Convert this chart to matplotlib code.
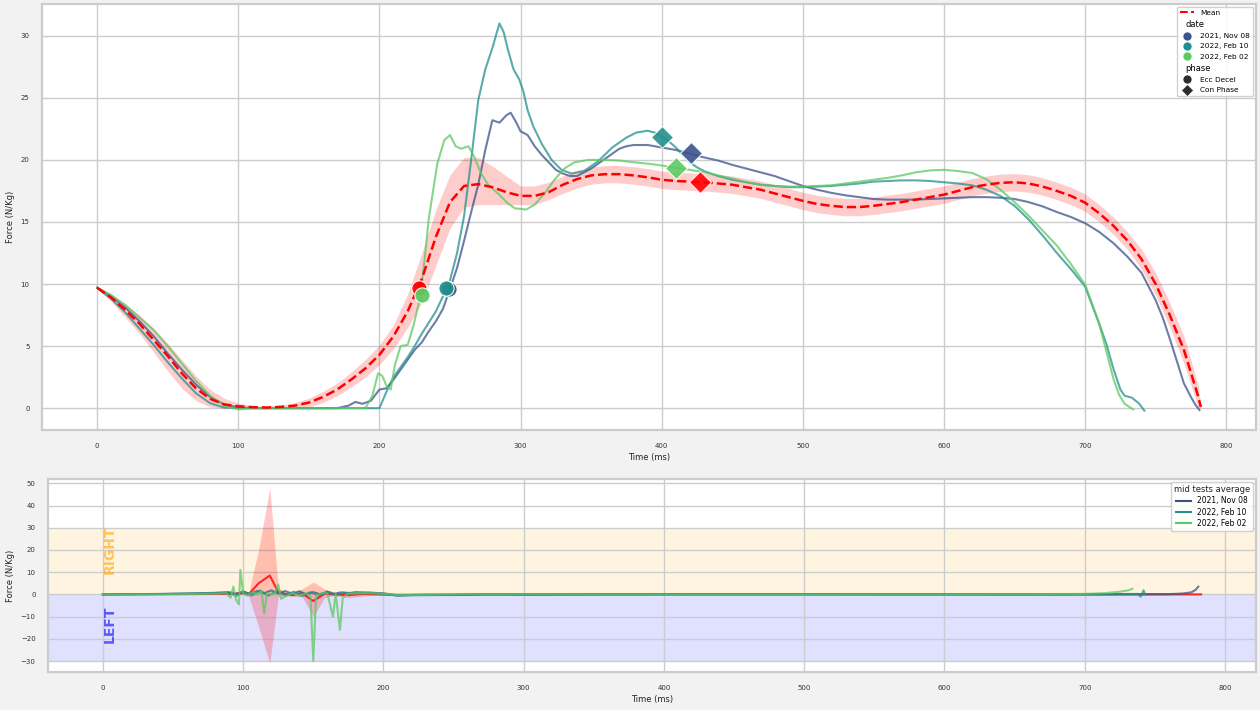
import matplotlib
matplotlib.use("Agg")
import matplotlib.pyplot as plt
from matplotlib.lines import Line2D
from matplotlib.offsetbox import VPacker


DATES = ["2021, Nov 08", "2022, Feb 10", "2022, Feb 02"]
DATE_COLORS = ["#3b528b", "#21918c", "#5ec962"]
MEAN_COLOR = "red"

# ---- top panel: force curves (N/Kg) ----
NOV08_T = [0, 10, 20, 30, 40, 50, 60, 70, 80, 90,
           100, 110, 170, 178, 183, 188, 194, 200, 205, 210,
           215, 220, 225, 230, 235, 240, 245, 250, 255, 260,
           265, 270, 275, 280, 285, 290, 293, 297, 300, 305,
           310, 315, 320, 325, 330, 335, 340, 345, 350, 355,
           360, 365, 370, 375, 380, 390, 400, 410, 420, 430,
           440, 450, 460, 470, 480, 490, 500, 510, 520, 530,
           540, 550, 560, 570, 580, 590, 600, 610, 620, 630,
           640, 650, 660, 670, 680, 690, 700, 710, 720, 730,
           740, 745, 750, 755, 760, 765, 770, 775, 778, 781]
NOV08_F = [9.7, 9.0, 8.1, 7.0, 5.8, 4.4, 3.1, 1.9, 0.9, 0.3,
           0.05, 0.0, 0.0, 0.2, 0.5, 0.35, 0.6, 1.5, 1.6, 2.3,
           3.1, 3.9, 4.7, 5.3, 6.2, 7.0, 8.0, 9.6, 11.3, 13.5,
           15.8, 18.0, 20.8, 23.2, 23.0, 23.6, 23.8, 23.0, 22.3, 22.0,
           21.1, 20.4, 19.8, 19.2, 18.9, 18.7, 18.7, 19.0, 19.3, 19.7,
           20.1, 20.5, 20.9, 21.1, 21.2, 21.2, 21.0, 20.8, 20.5, 20.2,
           19.95, 19.6, 19.3, 19.0, 18.7, 18.3, 17.9, 17.6, 17.35, 17.15,
           17.0, 16.85, 16.8, 16.8, 16.8, 16.85, 16.9, 16.95, 17.0, 17.0,
           16.95, 16.85, 16.6, 16.25, 15.8, 15.4, 14.9, 14.2, 13.3, 12.2,
           10.9, 9.8, 8.7, 7.3, 5.6, 3.8, 2.0, 0.9, 0.3, -0.15]

FEB10_T = [0, 10, 20, 30, 40, 50, 60, 70, 80, 90,
           100, 200, 203, 206, 210, 215, 220, 225, 230, 235,
           240, 245, 250, 255, 260, 265, 270, 275, 280, 285,
           288, 291, 295, 299, 302, 305, 309, 315, 322, 329,
           336, 345, 355, 365, 375, 382, 390, 395, 400, 405,
           410, 415, 420, 425, 430, 440, 450, 460, 470, 480,
           490, 500, 510, 520, 530, 540, 550, 560, 570, 580,
           590, 600, 610, 620, 630, 640, 650, 660, 670, 680,
           690, 700, 705, 710, 715, 720, 725, 728, 733, 738,
           742]
FEB10_F = [9.7, 8.8, 7.7, 6.4, 5.1, 3.7, 2.4, 1.2, 0.4, 0.05,
           0.0, 0.0, 0.8, 1.6, 2.5, 3.3, 4.1, 5.0, 6.0, 6.9,
           7.8, 9.0, 10.3, 12.5, 15.5, 20.0, 24.8, 27.3, 29.0, 31.0,
           30.3, 28.9, 27.3, 26.5, 25.5, 24.0, 22.7, 21.3, 20.0, 19.2,
           18.9, 19.1, 19.9, 21.0, 21.8, 22.2, 22.35, 22.2, 21.9, 21.5,
           21.0, 20.4, 19.8, 19.4, 19.1, 18.7, 18.4, 18.2, 18.0, 17.9,
           17.8, 17.8, 17.85, 17.9, 18.0, 18.1, 18.25, 18.3, 18.35, 18.35,
           18.3, 18.2, 18.1, 17.95, 17.6, 17.1, 16.3, 15.2, 13.9, 12.5,
           11.2, 9.8, 8.3, 6.8, 5.2, 3.2, 1.5, 1.0, 0.85, 0.4,
           -0.2]

FEB02_T = [0, 10, 20, 30, 40, 50, 60, 70, 80, 90,
           100, 110, 190, 195, 199, 202, 205, 208, 211, 215,
           220, 224, 229, 232, 235, 238, 241, 246, 250, 254,
           258, 263, 267, 272, 277, 284, 291, 296, 304, 310,
           317, 324, 331, 338, 348, 360, 370, 381, 390, 400,
           410, 420, 430, 440, 450, 460, 470, 480, 490, 500,
           510, 520, 530, 540, 550, 560, 570, 580, 590, 600,
           610, 620, 630, 640, 650, 660, 670, 680, 690, 700,
           705, 710, 715, 720, 724, 728, 734]
FEB02_F = [9.7, 9.1, 8.3, 7.3, 6.3, 5.0, 3.6, 2.2, 1.0, 0.2,
           -0.1, 0.0, 0.0, 1.0, 2.8, 2.6, 1.8, 1.5, 3.5, 5.0,
           5.1, 6.6, 9.0, 12.0, 15.3, 17.5, 19.7, 21.6, 22.0, 21.1,
           20.9, 21.1, 20.3, 18.9, 18.0, 17.3, 16.5, 16.1, 16.0, 16.4,
           17.3, 18.4, 19.3, 19.8, 20.0, 20.0, 19.95, 19.8, 19.7, 19.55,
           19.35, 19.2, 19.0, 18.75, 18.5, 18.2, 18.0, 17.9, 17.85, 17.85,
           17.9, 17.95, 18.1, 18.25, 18.4, 18.55, 18.75, 19.0, 19.15, 19.2,
           19.1, 18.95, 18.45, 17.6, 16.6, 15.5, 14.3, 13.1, 11.6, 9.95,
           8.4, 6.8, 4.6, 2.4, 1.1, 0.35, -0.1]

MEAN_T = [0, 10, 20, 30, 40, 50, 60, 70, 80, 90,
          100, 110, 120, 130, 140, 150, 160, 170, 180, 190,
          200, 210, 220, 230, 240, 250, 260, 270, 280, 290,
          300, 310, 320, 330, 340, 350, 360, 370, 380, 390,
          400, 410, 420, 430, 440, 450, 460, 470, 480, 490,
          500, 510, 520, 530, 540, 550, 560, 570, 580, 590,
          600, 610, 620, 630, 640, 650, 660, 670, 680, 690,
          700, 710, 720, 730, 740, 750, 760, 770, 780, 782]
MEAN_F = [9.7, 8.9, 7.9, 6.8, 5.5, 4.2, 2.8, 1.6, 0.75, 0.3,
          0.15, 0.08, 0.05, 0.1, 0.2, 0.45, 0.9, 1.5, 2.3, 3.2,
          4.3, 5.8, 7.8, 10.4, 13.8, 16.6, 17.9, 18.05, 17.8, 17.4,
          17.1, 17.1, 17.4, 18.0, 18.45, 18.75, 18.85, 18.85, 18.75, 18.6,
          18.4, 18.3, 18.25, 18.2, 18.1, 18.0, 17.8, 17.6, 17.3, 17.0,
          16.7, 16.45, 16.3, 16.2, 16.2, 16.3, 16.45, 16.6, 16.8, 17.0,
          17.2, 17.5, 17.8, 18.0, 18.15, 18.2, 18.1, 17.85, 17.5, 17.1,
          16.55, 15.7, 14.7, 13.5, 12.0, 10.0, 7.5, 4.7, 1.0, 0.1]
MEAN_LO = [9.6, 8.6, 7.3, 6.0, 4.5, 3.0, 1.6, 0.6, 0.1, 0.0,
           0.0, 0.0, 0.0, 0.0, 0.0, 0.1, 0.45, 1.0, 1.7, 2.5,
           3.5, 4.8, 6.5, 8.5, 11.5, 14.5, 16.2, 16.4, 16.4, 16.4,
           16.4, 16.4, 16.8, 17.3, 17.75, 18.05, 18.15, 18.15, 18.05, 17.9,
           17.7, 17.6, 17.55, 17.5, 17.4, 17.3, 17.1, 16.9, 16.6, 16.3,
           16.0, 15.75, 15.6, 15.5, 15.5, 15.6, 15.75, 15.9, 16.1, 16.3,
           16.5, 16.8, 17.1, 17.3, 17.45, 17.5, 17.4, 17.15, 16.8, 16.4,
           15.85, 15.0, 14.0, 12.8, 11.2, 9.1, 6.5, 3.6, 0.1, 0.0]
MEAN_HI = [9.8, 9.2, 8.4, 7.5, 6.4, 5.2, 3.9, 2.6, 1.5, 0.8,
           0.4, 0.2, 0.15, 0.25, 0.45, 0.8, 1.35, 2.0, 2.9, 3.9,
           5.1, 6.7, 9.2, 12.5, 16.0, 18.8, 20.2, 20.2, 19.5, 18.7,
           17.9, 17.9, 18.2, 18.7, 19.15, 19.45, 19.55, 19.55, 19.45, 19.3,
           19.1, 19.0, 18.95, 18.9, 18.8, 18.7, 18.5, 18.3, 18.0, 17.7,
           17.4, 17.15, 17.0, 16.9, 16.9, 17.0, 17.15, 17.3, 17.5, 17.7,
           17.9, 18.2, 18.5, 18.7, 18.85, 18.9, 18.8, 18.55, 18.2, 17.8,
           17.25, 16.4, 15.4, 14.2, 12.8, 10.9, 8.5, 5.8, 1.9, 0.2]

# phase markers, order: mean, Nov 08, Feb 10, Feb 02
ECC_T = [228, 249, 247, 230]
ECC_F = [9.7, 9.6, 9.65, 9.1]
CON_T = [427, 421, 400, 410]
CON_F = [18.2, 20.55, 21.85, 19.35]

# ---- bottom panel: right - left asymmetry ----
DIFF_NOV08_T = [0, 20, 40, 60, 80, 90, 95, 100, 105, 110,
                115, 120, 125, 130, 135, 140, 145, 150, 155, 160,
                165, 170, 175, 180, 190, 200, 210, 220, 230, 250,
                275, 300, 350, 400, 500, 600, 700, 760, 770, 776,
                779, 781]
DIFF_NOV08_F = [0.0, 0.1, 0.2, 0.4, 0.7, 0.9, 0.3, 1.2, 0.2, 1.5,
                0.5, 1.8, 0.4, 1.5, 0.2, 1.4, 0.1, 1.0, 0.0, 1.2,
                0.3, 0.9, 0.5, 1.0, 0.8, 0.5, -0.5, -0.3, -0.2, -0.3,
                0.1, -0.2, 0.0, 0.1, 0.1, 0.0, 0.0, 0.1, 0.4, 0.9,
                2.0, 3.5]
DIFF_FEB10_T = [0, 40, 80, 90, 95, 100, 106, 112, 118, 124,
                130, 136, 142, 148, 154, 160, 166, 172, 180, 190,
                200, 210, 220, 240, 270, 300, 400, 500, 600, 700,
                738, 740, 742, 743]
DIFF_FEB10_F = [0.0, 0.15, 0.6, 1.0, -0.8, 1.5, -0.5, 1.8, -0.6, 1.6,
                -0.4, 1.2, -0.8, 1.0, -0.5, 1.2, -0.3, 0.8, 0.5, 0.7,
                0.2, -0.6, -0.4, -0.3, 0.1, -0.1, 0.0, 0.05, 0.0, 0.1,
                0.2, -1.0, 1.8, 0.0]
DIFF_FEB02_T = [0, 40, 80, 88, 91, 93, 95, 97, 98, 100,
                103, 107, 110, 113, 115, 117, 122, 125, 127, 130,
                135, 140, 145, 148, 150, 152, 156, 160, 164, 166,
                169, 171, 175, 180, 190, 200, 210, 230, 260, 300,
                400, 500, 600, 700, 715, 725, 731, 734]
DIFF_FEB02_F = [0.0, 0.0, 0.3, 0.5, -1.5, 3.5, -2.5, -4.5, 11.0, 0.5,
                -0.5, 1.0, 0.0, 1.5, -8.5, 0.5, 0.0, 4.5, -2.0, -1.0,
                0.5, -0.5, 0.5, -1.0, -30.0, -0.5, 0.5, 0.5, -10.0, 0.3,
                -16.0, -1.5, 0.3, 0.5, 0.5, 0.3, -0.3, -0.2, 0.1, 0.0,
                0.0, 0.0, 0.0, 0.2, 0.6, 1.2, 1.8, 2.5]
DIFF_MEAN_T = [0, 90, 100, 104, 111, 119, 125, 130, 135, 142,
               150, 158, 165, 175, 185, 195, 210, 300, 500, 783]
DIFF_MEAN_F = [0.0, 0.2, 0.5, 0.0, 5.0, 8.5, 1.0, 0.2, -0.3, 0.5,
               -3.0, 0.3, 0.0, -0.3, 0.2, 0.0, -0.2, 0.0, 0.0, 0.0]
DIFF_LO = [0.0, 0.0, 0.0, -1.0, -14.5, -31.0, -1.0, -0.5, -1.0, -1.0,
           -10.0, -1.5, -0.5, -1.5, -0.8, -0.3, -0.5, -0.1, -0.1, -0.1]
DIFF_HI = [0.0, 0.4, 0.9, 1.0, 20.0, 48.0, 3.0, 1.0, 0.5, 2.5,
           5.5, 2.5, 0.5, 0.8, 1.0, 0.3, 0.1, 0.1, 0.1, 0.1]

GRID_COLOR = "#cccccc"
TEXT_COLOR = "#333333"


def style_axes(ax):
    ax.set_facecolor("white")
    ax.grid(True, color=GRID_COLOR, linewidth=1.0)
    for spine in ax.spines.values():
        spine.set_color(GRID_COLOR)
        spine.set_linewidth(1.6)
    ax.tick_params(length=0, pad=9, labelsize=5.0, labelcolor=TEXT_COLOR)
    ax.set_xticks([0, 100, 200, 300, 400, 500, 600, 700, 800])
    ax.set_xlabel("Time (ms)", fontsize=6, color="#222222", labelpad=3)
    ax.set_ylabel("Force (N/Kg)", fontsize=6, color="#222222", labelpad=4)


def adjust_subtitles(legend, subtitles, size):
    # same trick seaborn uses: drop the handle box for the subtitle rows
    for hpack in legend.findobj(VPacker)[0].get_children():
        draw_area, text_area = hpack.get_children()
        if text_area.get_text() in subtitles:
            draw_area.set_width(0)
            for text in text_area.get_children():
                text.set_fontsize(size)


def plot_force_panel(ax):
    curves = [(NOV08_T, NOV08_F), (FEB10_T, FEB10_F), (FEB02_T, FEB02_F)]
    for (t, f), color in zip(curves, DATE_COLORS):
        ax.plot(t, f, color=color, linewidth=1.5, alpha=0.75, zorder=3)

    ax.fill_between(MEAN_T, MEAN_LO, MEAN_HI, color=MEAN_COLOR, alpha=0.2,
                    linewidth=0, zorder=2)
    ax.plot(MEAN_T, MEAN_F, color=MEAN_COLOR, linestyle="--", linewidth=1.8, zorder=4)

    marker_colors = [MEAN_COLOR] + DATE_COLORS
    for i, color in enumerate(marker_colors):
        ax.scatter(ECC_T[i], ECC_F[i], s=120, marker="o", color=color,
                   edgecolor="white", linewidth=0.8, alpha=0.95, zorder=5)
        ax.scatter(CON_T[i], CON_F[i], s=125, marker="D", color=color,
                   edgecolor="white", linewidth=0.8, alpha=0.9, zorder=5)

    ax.set_yticks([0, 5, 10, 15, 20, 25, 30])

    handles = [Line2D([], [], color=MEAN_COLOR, linestyle="--", linewidth=1.5),
               Line2D([], [], visible=False)]
    labels = ["Mean", "date"]
    for date, color in zip(DATES, DATE_COLORS):
        handles.append(Line2D([], [], linestyle="", marker="o", markersize=6.5,
                              color=color, markeredgecolor="white", markeredgewidth=0.5))
        labels.append(date)
    handles.append(Line2D([], [], visible=False))
    labels.append("phase")
    handles.append(Line2D([], [], linestyle="", marker="o", markersize=6.5,
                          color="#2d2d2d", markeredgecolor="white", markeredgewidth=0.5))
    labels.append("Ecc Decel")
    handles.append(Line2D([], [], linestyle="", marker="D", markersize=6,
                          color="#2d2d2d", markeredgecolor="white", markeredgewidth=0.5))
    labels.append("Con Phase")
    legend = ax.legend(handles, labels, loc="upper right", fontsize=5.3,
                       frameon=True, fancybox=True, framealpha=0.9,
                       edgecolor=GRID_COLOR, labelspacing=0.55,
                       handlelength=2.0, borderaxespad=0.4)
    adjust_subtitles(legend, ("date", "phase"), 6)


def plot_asymmetry_panel(ax):
    ax.axhspan(0, 30, color="orange", alpha=0.12, linewidth=0, zorder=0.5)
    ax.axhspan(-30, 0, color="blue", alpha=0.12, linewidth=0, zorder=0.5)
    ax.text(0, 9, "RIGHT", rotation=90, ha="left", va="bottom", fontsize=10,
            fontweight="bold", color="orange", alpha=0.6)
    ax.text(0, -5, "LEFT", rotation=90, ha="left", va="top", fontsize=10,
            fontweight="bold", color="blue", alpha=0.6)

    ax.fill_between(DIFF_MEAN_T, DIFF_LO, DIFF_HI, color=MEAN_COLOR, alpha=0.22,
                    linewidth=0, zorder=2)
    ax.plot(DIFF_MEAN_T, DIFF_MEAN_F, color=MEAN_COLOR, linewidth=1.5, alpha=0.8, zorder=3)

    curves = [(DIFF_NOV08_T, DIFF_NOV08_F), (DIFF_FEB10_T, DIFF_FEB10_F),
              (DIFF_FEB02_T, DIFF_FEB02_F)]
    for (t, f), color in zip(curves, DATE_COLORS):
        ax.plot(t, f, color=color, linewidth=1.5, alpha=0.75, zorder=4)

    ax.set_yticks([-30, -20, -10, 0, 10, 20, 30, 40, 50])
    handles = [Line2D([], [], color=color, linewidth=1.5) for color in DATE_COLORS]
    legend = ax.legend(handles, DATES, loc="upper right", title="mid tests average",
                       fontsize=5.5, title_fontsize=6, frameon=True, framealpha=0.9,
                       edgecolor=GRID_COLOR, labelspacing=0.3, borderaxespad=0.4)
    legend.get_title().set_color("#222222")


def main():
    fig = plt.figure(figsize=(12.6, 7.1), dpi=100, facecolor="#f2f2f2")
    ax_top = fig.add_axes([42 / 1260, 280 / 710, 1214 / 1260, 426 / 710])
    ax_bot = fig.add_axes([48 / 1260, 38 / 710, 1208 / 1260, 193 / 710])

    style_axes(ax_top)
    style_axes(ax_bot)
    plot_force_panel(ax_top)
    plot_asymmetry_panel(ax_bot)

    fig.savefig("out.png", dpi=100, facecolor=fig.get_facecolor())
    plt.close(fig)


if __name__ == "__main__":
    main()
